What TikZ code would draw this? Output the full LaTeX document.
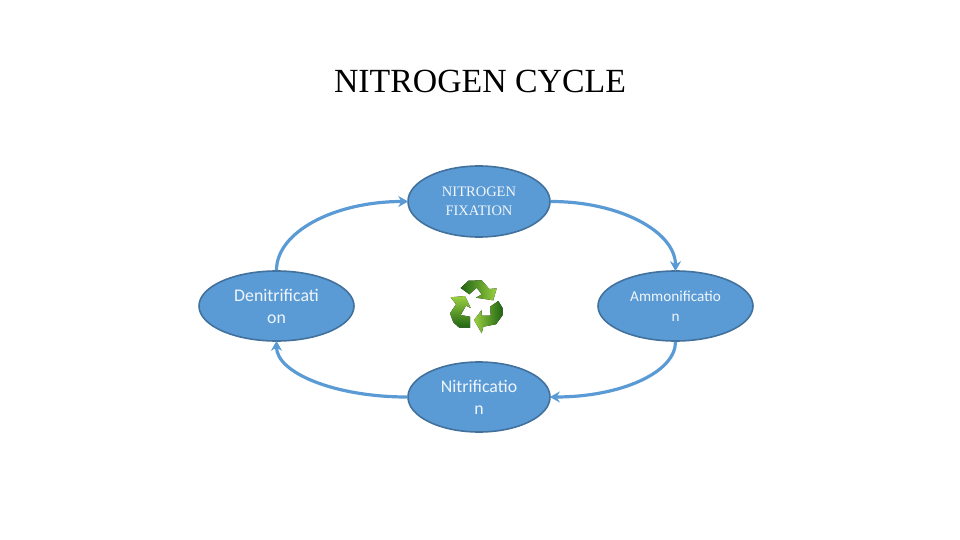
\documentclass[tikz,border=0pt]{standalone}
\usepackage{fontspec}
\setmainfont{Liberation Serif}
\newfontfamily\bodyfont{Carlito}
\usetikzlibrary{shapes.geometric,arrows.meta}
\definecolor{cycleblue}{HTML}{5B9BD5}
\definecolor{cycleedge}{HTML}{41719C}
\definecolor{leafdark}{HTML}{1F6412}
\definecolor{leaflight}{HTML}{9BD042}
\tikzset{
  stage/.style={ellipse,draw=cycleedge,line width=1.6pt,fill=cycleblue,text=white!90!cycleblue,inner sep=0pt,align=center},
  link/.style={cycleblue,line width=3.2pt,-{Stealth[length=10pt,width=11pt]},shorten >=-1pt},
  leaf/.style={draw=none,left color=#1,right color=leaflight}
}
\begin{document}
\begin{tikzpicture}[x=1pt,y=-1pt]
\useasboundingbox (0,0) rectangle (960,540);
\node[font=\fontsize{33.8}{38}\selectfont] (title) at (480,81) {NITROGEN CYCLE};
\node[stage,minimum width=142pt,minimum height=71pt,font=\fontsize{14.5}{18.5}\selectfont] (fix) at (479,201.5) {NITROGEN\\FIXATION};
\node[stage,minimum width=155pt,minimum height=70pt,font=\bodyfont\fontsize{17.8}{22}\selectfont] (den) at (276.5,306) {Denitrificati\\on};
\node[stage,minimum width=155pt,minimum height=70pt,font=\bodyfont\fontsize{15.2}{20}\selectfont] (amm) at (675.5,306) {Ammonificatio\\n};
\node[stage,minimum width=142pt,minimum height=70pt,font=\bodyfont\fontsize{17.8}{22}\selectfont] (nit) at (479,397) {Nitrificatio\\n};
\draw[link] (den.north) .. controls +(0,-38.4) and +(-72.6,0) .. (fix.west);
\draw[link] (fix.east) .. controls +(69.3,0) and +(0,-38.4) .. (amm.north);
\draw[link] (amm.south) .. controls +(0,31) and +(69.3,0) .. (nit.east);
\draw[link] (nit.west) .. controls +(-72.6,0) and +(0,31) .. (den.south);
% recycling mark
\fill[leaf=leafdark] (460.7,288) -- (468.5,280.7) -- (481.7,280.3) -- (489.3,289) -- (496.7,288.3) -- (493.3,300.3) -- (476,297.7) -- (481.7,294.3) -- (476.7,287.7) -- (469.3,294.3) -- cycle;
\fill[top color=leaflight,bottom color=leafdark] (450.7,297.3) -- (465,296) -- (470.7,308) -- (466,305.7) -- (460.7,315) -- (470,316.7) -- (470,327.7) -- (459.3,327.7) -- (453.3,322.3) -- (450,313.3) -- (456,304.3) -- cycle;
\fill[right color=leafdark,left color=leaflight] (474,320) -- (481.7,310) -- (481.7,315.7) -- (490.7,315.7) -- (490,306.7) -- (498.3,301) -- (502.7,308.3) -- (502.7,315) -- (496,324.3) -- (483.3,326.7) -- (481.7,333.3) -- cycle;
\end{tikzpicture}
\end{document}
